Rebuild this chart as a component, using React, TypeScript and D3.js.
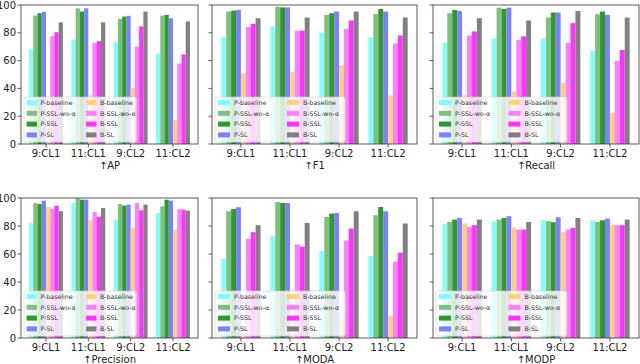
import React from "react";
import * as d3 from "d3";

const groups = ["9:CL1", "11:CL1", "9:CL2", "11:CL2"];
const series = ["P-baseline", "P-SSL-wo-α", "P-SSL", "P-SL", "B-baseline", "B-SSL-wo-α", "B-SSL", "B-SL"];
const colors = ["#80ffff", "#7fbf7f", "#2e9a2e", "#7f7fff", "#ffd280", "#ff80ff", "#ff33ff", "#808080"];
const yTicks = [0, 20, 40, 60, 80, 100];

// one row per group, bars in series order
const apValues = [
  [68, 92.4, 94.1, 95, 30, 77.5, 80.4, 87.5],
  [75.2, 97.6, 95.3, 97.6, 35, 72.8, 74, 87.5],
  [73.3, 90, 91.7, 92.2, 40.4, 70, 84.6, 95.3],
  [65, 92.4, 92.9, 90.5, 17.3, 57.9, 64.5, 88.2],
];
const f1Values = [
  [77, 95.3, 96, 96.5, 50.8, 84.2, 86.5, 90.5],
  [84.6, 98.8, 98.3, 98.3, 52, 81.6, 81.6, 91],
  [80, 92.9, 94.1, 95.3, 56.7, 82.7, 88.9, 95.3],
  [76.8, 93.6, 97.2, 95.3, 35, 72.3, 78, 91],
];
const recallValues = [
  [72.8, 94.1, 96.5, 95.7, 35, 78, 81, 90.5],
  [75.7, 98.1, 97.2, 98.1, 37.8, 74.7, 77.5, 88.9],
  [75.9, 91, 94.6, 94.6, 44, 72.8, 87, 95.7],
  [66.9, 93.4, 95.3, 92.9, 22.5, 59.8, 67.6, 91],
];
const precisionValues = [
  [82, 96.4, 95.7, 98, 93.6, 92.2, 94.5, 90.5],
  [96.4, 99.8, 98.8, 98.8, 84.1, 90, 86.7, 92.9],
  [84.6, 95.7, 94.5, 95.3, 78.7, 96.4, 91.2, 95.3],
  [89.3, 94.1, 98.8, 98.1, 77.5, 92.2, 91.7, 91],
];
const modaValues = [
  [56.6, 90.5, 92.2, 93.4, 8, 70.9, 75.6, 80.6],
  [72.7, 97.2, 96.4, 96.4, 22, 66.8, 65.2, 82.2],
  [62.1, 86.5, 88.9, 89.3, 18, 69.7, 78.2, 90.5],
  [58.5, 87.7, 93.6, 90.5, 15.9, 54.5, 60.9, 81.8],
];
const modpValues = [
  [81.5, 82.9, 84.6, 85.8, 81.8, 79.4, 80.6, 84.6],
  [83.4, 84.6, 85.8, 87, 79.1, 77.5, 77.5, 82.9],
  [84.1, 83.4, 82.7, 86.3, 75.6, 77.5, 78.7, 85.8],
  [83.9, 82.9, 84.1, 85.3, 80.6, 80.6, 80.6, 84.6],
];

const panels = [
  { title: "↑AP", values: apValues, x0: 21, x1: 198, y0: 5, y1: 144, yLabels: true },
  { title: "↑F1", values: f1Values, x0: 212, x1: 417, y0: 5, y1: 144, yLabels: false },
  { title: "↑Recall", values: recallValues, x0: 433, x1: 639, y0: 5, y1: 144, yLabels: false },
  { title: "↑Precision", values: precisionValues, x0: 21, x1: 198, y0: 198, y1: 338, yLabels: true },
  { title: "↑MODA", values: modaValues, x0: 212, x1: 417, y0: 198, y1: 338, yLabels: false },
  { title: "↑MODP", values: modpValues, x0: 433, x1: 639, y0: 198, y1: 338, yLabels: false },
];

const font = "DejaVu Sans";

function Panel(p) {
  const x = d3.scaleLinear().domain([-0.59, 3.59]).range([p.x0, p.x1]);
  const y = d3.scaleLinear().domain([0, 100]).range([p.y1, p.y0]);
  const bw = 0.1;
  const w = p.x1 - p.x0;
  const s = w / 205;
  const lx = p.x0 + 3;
  const lw = 0.635 * w;
  const lh = 45;
  const ly = p.y1 - 2 - lh;

  const bars = p.values.map((row, gi) =>
    row.map((v, si) => (
      <rect
        key={gi + "-" + si}
        x={x(gi - 0.4 + si * bw)}
        width={x(bw) - x(0)}
        y={y(v)}
        height={y(0) - y(v)}
        fill={colors[si]}
      />
    ))
  );

  const legend = series.map((name, i) => {
    const col = Math.floor(i / 4);
    const row = i % 4;
    const cx = lx + 3 * s + col * 0.53 * lw;
    const cy = ly + 5.5 + row * 10.8;
    return (
      <g key={name}>
        <rect x={cx} y={cy - 2.5} width={12 * s} height={5} fill={colors[i]} />
        <text x={cx + 16 * s} y={cy} dy="0.35em" fontSize={6.3} fill="#333">{name}</text>
      </g>
    );
  });

  return (
    <g fontFamily={font}>
      {bars}
      <rect x={lx} y={ly} width={lw} height={lh} rx={2} fill="#fff" fillOpacity={0.8} stroke="#d0d0d0" strokeWidth={0.6} />
      {legend}
      <rect x={p.x0} y={p.y0} width={w} height={p.y1 - p.y0} fill="none" stroke="#333" strokeWidth={0.8} />
      {yTicks.map(t => (
        <g key={t}>
          <line x1={p.x0 - 3.5} x2={p.x0} y1={y(t)} y2={y(t)} stroke="#333" strokeWidth={0.8} />
          {p.yLabels && (
            <text x={p.x0 - 5} y={y(t)} dy="0.35em" textAnchor="end" fontSize={10} fill="#222">{t}</text>
          )}
        </g>
      ))}
      {groups.map((g, i) => (
        <g key={g}>
          <line x1={x(i)} x2={x(i)} y1={p.y1} y2={p.y1 + 3.5} stroke="#333" strokeWidth={0.8} />
          <text x={x(i)} y={p.y1 + 12.5} textAnchor="middle" fontSize={10} fill="#222">{g}</text>
        </g>
      ))}
      <text x={(p.x0 + p.x1) / 2} y={p.y1 + 25} textAnchor="middle" fontSize={10} fill="#222">{p.title}</text>
    </g>
  );
}

export default function App() {
  return (
    <svg width={640} height={364} style={{ position: "absolute", left: 0, top: 0, background: "#fff" }}>
      {panels.map(p => <Panel key={p.title} {...p} />)}
    </svg>
  );
}
